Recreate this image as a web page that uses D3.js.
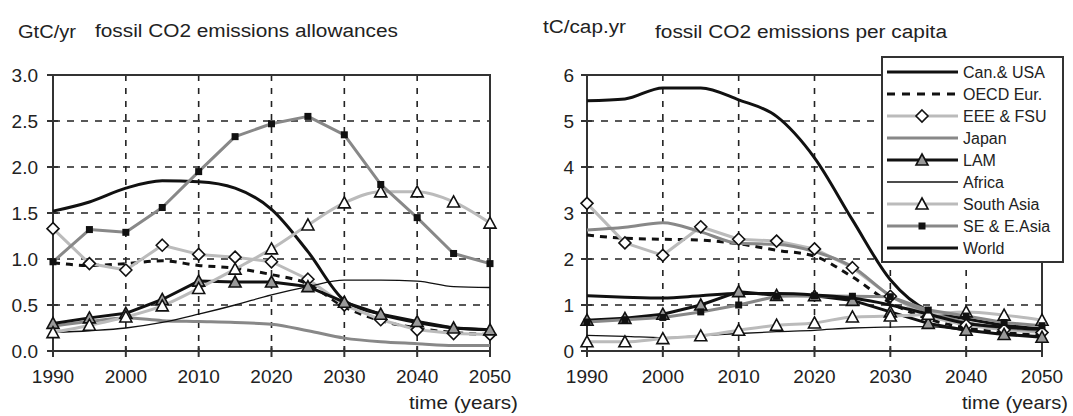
<!DOCTYPE html>
<html lang="en">
<head>
<meta charset="UTF-8">
<title>fossil CO2 emissions</title>
<script src="https://cdn.jsdelivr.net/npm/d3@7"></script>
<style>
  body { margin: 0; background: #fff; }
  svg text { font-family: "Liberation Sans", Arial, sans-serif; fill: #222; }
</style>
</head>
<body>
<div id="chart"></div>
<script>
// years every 5 from 1990 to 2050
var years = [1990, 1995, 2000, 2005, 2010, 2015, 2020, 2025, 2030, 2035, 2040, 2045, 2050];
var xTicks = [1990, 2000, 2010, 2020, 2030, 2040, 2050];
var leftTicks = [0, 0.5, 1, 1.5, 2, 2.5, 3];
var rightTicks = [0, 1, 2, 3, 4, 5, 6];
var seriesNames = ["Can.& USA", "OECD Eur.", "EEE & FSU", "Japan", "LAM", "Africa", "South Asia", "SE & E.Asia", "World"];

// left: allowances, GtC/yr
var allowCanUSA  = [1.52, 1.62, 1.77, 1.85, 1.84, 1.77, 1.54, 1.08, 0.55, 0.40, 0.31, 0.25, 0.23];
var allowOECD    = [0.96, 0.93, 0.95, 0.98, 0.93, 0.90, 0.83, 0.73, 0.48, 0.33, 0.25, 0.20, 0.18];
var allowEEE     = [1.33, 0.95, 0.88, 1.15, 1.05, 1.02, 0.97, 0.78, 0.50, 0.34, 0.23, 0.19, 0.18];
var allowJapan   = [0.27, 0.32, 0.36, 0.33, 0.32, 0.31, 0.29, 0.22, 0.14, 0.10, 0.08, 0.06, 0.06];
var allowLAM     = [0.30, 0.36, 0.41, 0.56, 0.76, 0.75, 0.75, 0.70, 0.53, 0.40, 0.32, 0.25, 0.23];
var allowAfrica  = [0.20, 0.22, 0.25, 0.31, 0.40, 0.50, 0.61, 0.70, 0.77, 0.77, 0.76, 0.70, 0.69];
var allowSAsia   = [0.20, 0.28, 0.37, 0.49, 0.68, 0.89, 1.11, 1.37, 1.61, 1.73, 1.73, 1.62, 1.39];
var allowSEAsia  = [0.97, 1.32, 1.29, 1.56, 1.95, 2.33, 2.47, 2.55, 2.35, 1.81, 1.45, 1.06, 0.95];

// right: per capita, tC/cap.yr
var capCanUSA  = [5.44, 5.48, 5.72, 5.72, 5.46, 5.10, 4.20, 2.85, 1.55, 0.88, 0.70, 0.56, 0.48];
var capOECD    = [2.52, 2.45, 2.43, 2.41, 2.33, 2.19, 2.06, 1.61, 1.05, 0.70, 0.50, 0.40, 0.35];
var capEEE     = [3.21, 2.35, 2.08, 2.70, 2.43, 2.39, 2.22, 1.81, 1.19, 0.75, 0.56, 0.46, 0.40];
var capJapan   = [2.63, 2.69, 2.79, 2.59, 2.34, 2.32, 2.16, 1.83, 1.20, 0.85, 0.62, 0.50, 0.45];
var capLAM     = [0.67, 0.71, 0.80, 1.00, 1.29, 1.21, 1.20, 1.10, 0.85, 0.60, 0.45, 0.36, 0.30];
var capAfrica  = [0.34, 0.32, 0.29, 0.33, 0.38, 0.42, 0.45, 0.50, 0.52, 0.53, 0.45, 0.38, 0.33];
var capSAsia   = [0.20, 0.20, 0.27, 0.33, 0.45, 0.56, 0.61, 0.74, 0.76, 0.80, 0.85, 0.78, 0.67];
var capSEAsia  = [0.63, 0.68, 0.73, 0.85, 1.00, 1.19, 1.20, 1.19, 1.18, 0.89, 0.76, 0.62, 0.55];
var capWorld   = [1.20, 1.17, 1.15, 1.20, 1.25, 1.25, 1.22, 1.15, 1.00, 0.80, 0.60, 0.52, 0.47];

var leftData  = [allowCanUSA, allowOECD, allowEEE, allowJapan, allowLAM, allowAfrica, allowSAsia, allowSEAsia, null];
var rightData = [capCanUSA, capOECD, capEEE, capJapan, capLAM, capAfrica, capSAsia, capSEAsia, capWorld];

// line styles, same order as seriesNames (straight = plain polyline)
var styles = [
  {color: "#111", w: 3},
  {color: "#111", w: 3, dash: "7,6"},
  {color: "#bbb", w: 3, marker: "diamond", mfill: "#fff", straight: true},
  {color: "#888", w: 3},
  {color: "#111", w: 3, marker: "triangle", mfill: "#999", straight: true},
  {color: "#111", w: 1.3},
  {color: "#bbb", w: 3, marker: "triangle", mfill: "#fff"},
  {color: "#888", w: 3, marker: "square", mfill: "#111", straight: true},
  {color: "#111", w: 3}
];

var svg = d3.select("#chart").append("svg")
  .attr("width", 1073)
  .attr("height", 416);

function addText(x, y, str, size, len, anchor) {
  var t = svg.append("text")
    .attr("x", x).attr("y", y)
    .attr("font-size", size)
    .attr("text-anchor", anchor || "start")
    .text(str);
  if (len) t.attr("textLength", len).attr("lengthAdjust", "spacingAndGlyphs");
  return t;
}

function drawMarker(g, type, x, y, fill) {
  var m;
  if (type == "diamond") {
    m = g.append("path").attr("d", "M0,-6L6,0L0,6L-6,0Z");
  } else if (type == "triangle") {
    m = g.append("path").attr("d", "M0,-6L6,5L-6,5Z");
  } else {
    m = g.append("rect").attr("x", -3.5).attr("y", -3.5).attr("width", 7).attr("height", 7);
  }
  m.attr("transform", "translate(" + x + "," + y + ")")
    .attr("fill", fill)
    .attr("stroke", type == "square" ? "none" : "#111")
    .attr("stroke-width", 1.6);
}

function panel(left, right, top, bottom, ymax, yTicks, fmt, labelX, data) {
  var x = d3.scaleLinear().domain([1990, 2050]).range([left, right]);
  var y = d3.scaleLinear().domain([0, ymax]).range([bottom, top]);
  var g = svg.append("g");

  // dashed grid
  g.selectAll(".hg").data(yTicks.filter(function(d) { return d > 0 && d < ymax; }))
    .enter().append("line")
    .attr("x1", left).attr("x2", right)
    .attr("y1", function(d) { return y(d); }).attr("y2", function(d) { return y(d); })
    .attr("stroke", "#222").attr("stroke-width", 1.6).attr("stroke-dasharray", "7,7");
  g.selectAll(".vg").data(xTicks.filter(function(d) { return d > 1990 && d < 2050; }))
    .enter().append("line")
    .attr("y1", top).attr("y2", bottom)
    .attr("x1", function(d) { return x(d); }).attr("x2", function(d) { return x(d); })
    .attr("stroke", "#222").attr("stroke-width", 1.6).attr("stroke-dasharray", "6,7");

  // frame
  g.append("rect").attr("x", left).attr("y", top)
    .attr("width", right - left).attr("height", bottom - top)
    .attr("fill", "none").attr("stroke", "#333").attr("stroke-width", 2);

  // cross ticks
  g.selectAll(".yt").data(yTicks).enter().append("line")
    .attr("x1", left - 6).attr("x2", left + 5)
    .attr("y1", function(d) { return y(d); }).attr("y2", function(d) { return y(d); })
    .attr("stroke", "#333").attr("stroke-width", 2);
  g.selectAll(".xt").data(xTicks).enter().append("line")
    .attr("y1", bottom - 5).attr("y2", bottom + 6)
    .attr("x1", function(d) { return x(d); }).attr("x2", function(d) { return x(d); })
    .attr("stroke", "#333").attr("stroke-width", 2);

  // tick labels
  g.selectAll(".yl").data(yTicks).enter().append("text")
    .attr("x", labelX).attr("y", function(d) { return y(d) + 7; })
    .attr("text-anchor", "end").attr("font-size", 19)
    .text(function(d) { return d3.format(fmt)(d); });
  g.selectAll(".xl").data(xTicks).enter().append("text")
    .attr("x", function(d) { return x(d); }).attr("y", bottom + 32)
    .attr("text-anchor", "middle").attr("font-size", 19)
    .text(function(d) { return d; });

  var smooth = d3.line()
    .x(function(d, i) { return x(years[i]); })
    .y(function(d) { return y(d); })
    .curve(d3.curveMonotoneX);
  var straight = d3.line()
    .x(function(d, i) { return x(years[i]); })
    .y(function(d) { return y(d); });

  // series lines
  data.forEach(function(vals, k) {
    if (!vals) return;
    var s = styles[k];
    g.append("path").attr("d", s.straight ? straight(vals) : smooth(vals))
      .attr("fill", "none").attr("stroke", s.color)
      .attr("stroke-width", s.w)
      .attr("stroke-linejoin", "round")
      .attr("stroke-dasharray", s.dash || null);
  });
  // markers on top
  data.forEach(function(vals, k) {
    if (!vals || !styles[k].marker) return;
    vals.forEach(function(v, i) {
      drawMarker(g, styles[k].marker, x(years[i]), y(v), styles[k].mfill);
    });
  });
}

panel(53, 490, 75, 351, 3, leftTicks, ".1f", 38, leftData);
panel(587, 1042, 75, 351, 6, rightTicks, "d", 574, rightData);

// titles
addText(18, 38, "GtC/yr", 18, 58);
addText(95, 37, "fossil CO2 emissions allowances", 18, 303);
addText(543, 33, "tC/cap.yr", 18, 83);
addText(655, 38, "fossil CO2 emissions per capita", 18, 292);
addText(409, 409, "time (years)", 18, 109);
addText(962, 409, "time (years)", 18, 106);

// legend
var lg = svg.append("g");
lg.append("rect").attr("x", 882).attr("y", 57).attr("width", 181).attr("height", 205)
  .attr("fill", "#fff").attr("stroke", "#333").attr("stroke-width", 2);
seriesNames.forEach(function(name, i) {
  var s = styles[i];
  var ly = 72 + i * 22;
  lg.append("line").attr("x1", 887).attr("x2", 958).attr("y1", ly).attr("y2", ly)
    .attr("stroke", s.color).attr("stroke-width", s.w)
    .attr("stroke-dasharray", s.dash ? "8,7" : null);
  if (s.marker) drawMarker(lg, s.marker, 922, ly, s.mfill);
  lg.append("text").attr("x", 963).attr("y", ly + 6)
    .attr("font-size", 16).text(name);
});
</script>
</body>
</html>
